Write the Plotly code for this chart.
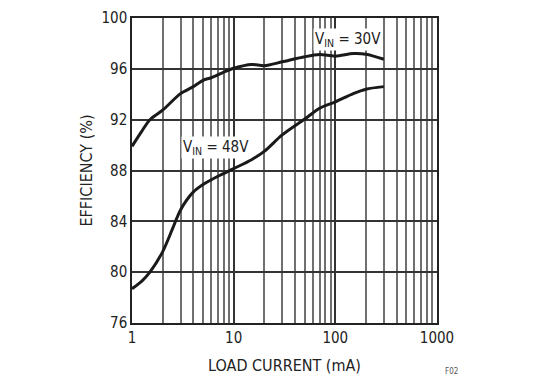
import plotly.graph_objects as go

# Data
load_ma = [1, 1.25, 1.5, 2, 3, 4, 5, 6, 8, 10, 15, 20, 30, 50, 70, 100, 150, 200, 300]
eff_30v = [89.9, 91.1, 92.0, 92.75, 94.05, 94.6, 95.1, 95.3, 95.75, 96.05, 96.35, 96.25, 96.55, 96.95, 97.12, 97.0, 97.2, 97.15, 96.75]
load_48 = [1, 1.25, 1.5, 2, 2.5, 3, 4, 5, 7, 10, 15, 20, 30, 50, 70, 100, 150, 200, 300]
eff_48v = [78.7, 79.3, 80.0, 81.6, 83.4, 84.9, 86.3, 86.9, 87.55, 88.15, 88.85, 89.5, 90.8, 92.05, 92.9, 93.4, 94.05, 94.4, 94.6]

x_ticks = [1, 10, 100, 1000]
x_minor = [m * d for d in (1, 10, 100) for m in range(2, 10)]
y_ticks = [76, 80, 84, 88, 92, 96, 100]

FONT = "DejaVu Sans Condensed, Liberation Sans Narrow, Arial Narrow, sans-serif"

fig = go.Figure()
line_style = dict(color="#1a1a1a", width=3, shape="spline", smoothing=0.8)
fig.add_trace(go.Scatter(x=load_ma, y=eff_30v, mode="lines", line=line_style, showlegend=False))
fig.add_trace(go.Scatter(x=load_48, y=eff_48v, mode="lines", line=line_style, showlegend=False))

fig.add_annotation(x=2.124, y=98.27, xref="x", yref="y", text="V<sub>IN</sub> = 30V", showarrow=False,
                   bgcolor="white", font=dict(family=FONT, size=15, color="#222"), borderpad=1)
fig.add_annotation(x=0.826, y=89.84, xref="x", yref="y", text="V<sub>IN</sub> = 48V", showarrow=False,
                   bgcolor="white", font=dict(family=FONT, size=15, color="#222"), borderpad=1)

fig.update_xaxes(type="log", range=[0, 3], tickvals=x_ticks, ticktext=[str(v) for v in x_ticks],
                 showgrid=True, gridcolor="#333", gridwidth=1.5,
                 minor=dict(tickvals=x_minor, showgrid=True, gridcolor="#707070", gridwidth=1.5, ticks=""),
                 showline=True, linecolor="#222", linewidth=1.5, mirror=True, ticks="", automargin=False,
                 title=dict(text="LOAD CURRENT (mA)", font=dict(family=FONT, size=16, color="#222"), standoff=14),
                 tickfont=dict(family=FONT, size=15, color="#222"), zeroline=False)
fig.update_yaxes(range=[76, 100], tickvals=y_ticks, showgrid=True, gridcolor="#333", gridwidth=1.5,
                 showline=True, linecolor="#222", linewidth=1.5, mirror=True, ticks="", automargin=False,
                 title=dict(text="EFFICIENCY (%)", font=dict(family=FONT, size=16, color="#222"), standoff=5),
                 tickfont=dict(family=FONT, size=15, color="#222"), zeroline=False)

fig.add_annotation(x=1.02, y=-0.18, xref="paper", yref="paper", xanchor="left", text="F02", showarrow=False,
                   font=dict(family=FONT, size=8, color="#555"))

fig.update_layout(width=541, height=388, margin=dict(l=124, r=112, t=10, b=73),
                  paper_bgcolor="white", plot_bgcolor="white")
fig.write_html("out.html")
